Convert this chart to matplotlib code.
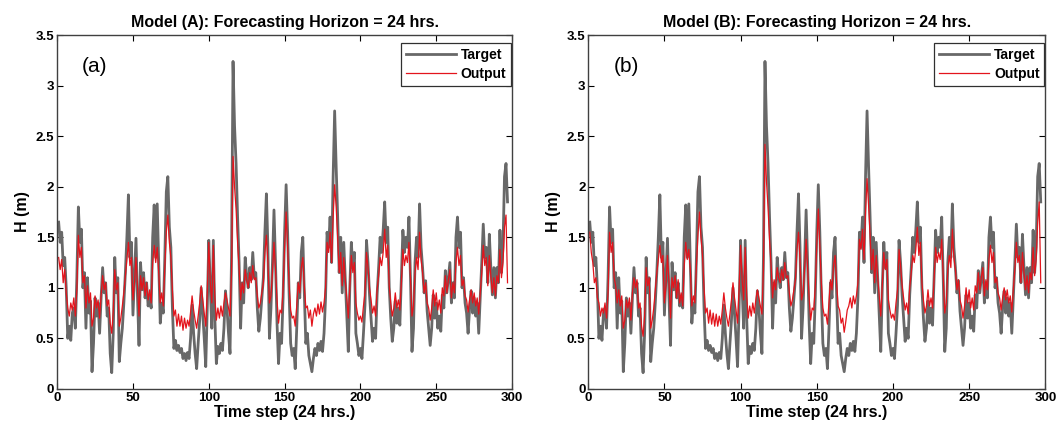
import matplotlib
matplotlib.use("Agg")
import matplotlib.pyplot as plt
import numpy as np

plt.rcParams['font.family'] = ['Liberation Sans', 'DejaVu Sans']

# measured wave height (same target in both panels), one value per 24 h step
target = [
    1.65, 1.45, 1.55, 1.22, 1.30, 1.00, 0.50, 0.62, 0.48, 0.75,
    0.80, 0.60, 1.10, 1.80, 1.45, 1.58, 1.00, 1.15, 0.60, 1.10,
    0.75, 0.87, 0.17, 0.45, 0.90, 0.72, 0.85, 0.55, 0.90, 1.20,
    0.95, 1.05, 0.72, 0.80, 0.35, 0.16, 0.55, 1.30, 0.95, 1.10,
    0.27, 0.45, 0.60, 0.85, 1.15, 1.50, 1.92, 1.30, 1.45, 0.73,
    1.10, 1.49, 0.90, 0.43, 1.25, 0.98, 1.15, 0.90, 1.05, 0.82,
    0.92, 0.80, 1.50, 1.82, 1.30, 1.83, 1.25, 0.65, 0.85, 0.75,
    1.30, 1.95, 2.10, 1.60, 1.40, 0.80, 0.40, 0.48, 0.38, 0.43,
    0.36, 0.40, 0.30, 0.35, 0.28, 0.36, 0.30, 0.50, 0.83, 0.55,
    0.35, 0.20, 0.45, 0.68, 1.00, 0.75, 0.50, 0.22, 0.80, 1.47,
    1.00, 0.60, 1.47, 0.70, 0.25, 0.42, 0.35, 0.45, 0.38, 0.60,
    0.97, 0.80, 0.55, 0.35, 1.30, 3.24, 2.60, 2.23, 1.70, 1.25,
    0.60, 1.05, 0.85, 1.30, 1.12, 1.00, 1.20, 1.08, 1.35, 1.10,
    1.15, 0.80, 0.57, 0.70, 0.90, 1.10, 1.55, 1.93, 1.40, 0.50,
    0.80, 1.25, 1.77, 1.25, 0.65, 0.25, 0.55, 0.45, 0.90, 1.55,
    2.02, 1.55, 0.93, 0.45, 0.33, 0.40, 0.20, 0.60, 1.05, 0.90,
    1.35, 1.50, 0.95, 0.45, 0.55, 0.33, 0.25, 0.17, 0.30, 0.40,
    0.33, 0.45, 0.38, 0.47, 0.37, 0.55, 0.90, 1.55, 1.40, 1.70,
    1.25, 2.10, 2.75, 2.20, 1.70, 1.15, 1.50, 0.95, 1.45, 1.10,
    0.73, 0.37, 1.00, 1.45, 1.20, 1.35, 0.55, 0.45, 0.33, 0.40,
    0.30, 0.55, 0.83, 1.47, 1.25, 0.93, 0.70, 0.47, 0.60, 0.50,
    0.93, 1.20, 1.50, 1.35, 1.57, 1.85, 1.45, 1.60, 1.00, 0.70,
    0.47, 0.60, 0.87, 0.65, 0.80, 0.63, 1.10, 1.57, 1.35, 1.50,
    1.40, 1.70, 1.10, 0.37, 0.60, 1.25, 1.50, 1.30, 1.83, 1.40,
    1.20, 0.95, 1.07, 0.77, 0.60, 0.43, 0.60, 0.93, 0.70, 0.85,
    0.60, 0.72, 0.57, 0.93, 0.80, 1.17, 0.95, 1.10, 1.25, 0.85,
    1.05, 0.90, 1.50, 1.70, 1.40, 1.55, 1.00, 1.10, 0.85, 0.75,
    0.55, 0.80, 0.97, 0.75, 0.90, 0.72, 0.85, 0.55, 0.90, 1.25,
    1.63, 1.30, 1.40, 1.05, 1.53, 1.20, 0.93, 1.20, 0.90, 1.20,
    1.05, 1.57, 1.15, 1.40, 2.10, 2.23, 1.85,
]

# model (A) forecast
output_a = [
    1.30, 1.18, 1.28, 1.05, 1.18, 0.95, 0.80, 0.72, 0.85, 0.78,
    0.90, 0.72, 0.98, 1.52, 1.30, 1.40, 1.05, 1.12, 0.80, 1.02,
    0.85, 0.95, 0.62, 0.70, 0.92, 0.80, 0.88, 0.70, 0.92, 1.12,
    0.98, 1.05, 0.82, 0.88, 0.65, 0.55, 0.76, 1.18, 0.98, 1.05,
    0.62, 0.70, 0.82, 0.95, 1.12, 1.30, 1.45, 1.22, 1.30, 0.88,
    1.05, 1.30, 1.00, 0.72, 1.12, 0.98, 1.10, 0.92, 1.05, 0.88,
    0.98, 0.85, 1.25, 1.42, 1.25, 1.40, 1.15, 0.85, 0.95, 0.82,
    1.20, 1.55, 1.72, 1.45, 1.30, 0.98, 0.72, 0.78, 0.62, 0.74,
    0.62, 0.72, 0.58, 0.70, 0.60, 0.68, 0.62, 0.76, 0.92, 0.78,
    0.68, 0.60, 0.72, 0.85, 1.02, 0.88, 0.75, 0.62, 0.95, 1.45,
    1.05, 0.85, 1.42, 0.90, 0.68, 0.80, 0.70, 0.82, 0.72, 0.85,
    0.95, 0.88, 0.80, 0.72, 1.15, 2.30, 2.00, 1.78, 1.45, 1.20,
    0.88, 1.05, 0.95, 1.18, 1.08, 1.00, 1.15, 1.05, 1.22, 1.08,
    1.10, 0.92, 0.80, 0.85, 0.95, 1.05, 1.35, 1.52, 1.25, 0.85,
    0.92, 1.15, 1.45, 1.18, 0.88, 0.65, 0.78, 0.75, 0.98, 1.40,
    1.75, 1.40, 1.02, 0.78, 0.70, 0.72, 0.62, 0.82, 1.05, 0.95,
    1.20, 1.30, 1.02, 0.80, 0.82, 0.70, 0.78, 0.62, 0.74, 0.80,
    0.72, 0.84, 0.74, 0.86, 0.76, 0.85, 1.00, 1.45, 1.35, 1.55,
    1.25, 1.70, 2.02, 1.80, 1.50, 1.15, 1.35, 1.02, 1.30, 1.08,
    0.90, 0.70, 1.00, 1.32, 1.15, 1.25, 0.85, 0.75, 0.68, 0.72,
    0.66, 0.82, 0.95, 1.35, 1.20, 1.00, 0.88, 0.75, 0.82, 0.72,
    0.98, 1.12, 1.30, 1.22, 1.35, 1.58, 1.30, 1.42, 1.02, 0.85,
    0.72, 0.80, 0.95, 0.80, 0.88, 0.78, 1.05, 1.38, 1.22, 1.32,
    1.25, 1.45, 1.10, 0.72, 0.82, 1.15, 1.30, 1.18, 1.55, 1.28,
    1.15, 0.95, 1.05, 0.85, 0.80, 0.68, 0.80, 0.98, 0.82, 0.95,
    0.78, 0.88, 0.75, 1.00, 0.92, 1.12, 0.95, 1.08, 1.18, 0.90,
    1.05, 0.95, 1.25, 1.40, 1.22, 1.32, 1.02, 1.08, 0.92, 0.88,
    0.76, 0.88, 0.98, 0.85, 0.95, 0.82, 0.90, 0.74, 0.95, 1.15,
    1.42, 1.22, 1.30, 1.02, 1.32, 1.12, 0.95, 1.10, 0.92, 1.12,
    1.05, 1.38, 1.10, 1.25, 1.60, 1.72, 1.05,
]

# model (B) forecast
output_b = [
    1.55, 1.35, 1.25, 1.05, 1.10, 0.90, 0.85, 0.72, 0.80, 0.75,
    0.85, 0.70, 0.95, 1.55, 1.35, 1.45, 1.10, 1.02, 0.85, 0.98,
    0.82, 0.92, 0.60, 0.68, 0.88, 0.80, 0.90, 0.68, 0.95, 1.10,
    1.00, 1.08, 0.80, 0.85, 0.62, 0.52, 0.72, 1.20, 1.02, 1.10,
    0.60, 0.68, 0.80, 0.98, 1.15, 1.28, 1.42, 1.25, 1.32, 0.85,
    1.02, 1.32, 1.05, 0.70, 1.10, 1.00, 1.12, 0.90, 1.08, 0.85,
    0.95, 0.82, 1.22, 1.45, 1.28, 1.38, 1.18, 0.82, 0.92, 0.85,
    1.22, 1.52, 1.75, 1.50, 1.32, 1.00, 0.75, 0.80, 0.65, 0.78,
    0.64, 0.75, 0.62, 0.74, 0.62, 0.72, 0.64, 0.78, 0.95, 0.80,
    0.70, 0.62, 0.74, 0.88, 1.05, 0.90, 0.78, 0.65, 0.98, 1.42,
    1.08, 0.88, 1.40, 0.92, 0.70, 0.82, 0.72, 0.85, 0.75, 0.88,
    0.98, 0.90, 0.82, 0.74, 1.18, 2.42, 2.05, 1.80, 1.48, 1.22,
    0.90, 1.08, 0.98, 1.20, 1.10, 1.05, 1.18, 1.08, 1.25, 1.10,
    1.12, 0.95, 0.82, 0.88, 0.98, 1.08, 1.38, 1.55, 1.28, 0.88,
    0.95, 1.18, 1.48, 1.20, 0.90, 0.68, 0.80, 0.78, 1.00, 1.42,
    1.78, 1.42, 1.05, 0.80, 0.72, 0.74, 0.64, 0.85, 1.08, 0.98,
    1.22, 1.32, 1.05, 0.82, 0.78, 0.65, 0.70, 0.56, 0.66, 0.78,
    0.82, 0.90, 0.80, 0.92, 0.84, 0.92, 1.05, 1.48, 1.38, 1.58,
    1.28, 1.75, 2.08, 1.82, 1.52, 1.18, 1.38, 1.05, 1.32, 1.10,
    0.92, 0.72, 1.02, 1.35, 1.18, 1.28, 0.88, 0.78, 0.70, 0.74,
    0.68, 0.85, 0.98, 1.38, 1.22, 1.02, 0.90, 0.78, 0.85, 0.74,
    1.00, 1.15, 1.32, 1.25, 1.38, 1.60, 1.32, 1.45, 1.05, 0.88,
    0.75, 0.82, 0.98, 0.82, 0.90, 0.80, 1.08, 1.40, 1.25, 1.35,
    1.28, 1.48, 1.12, 0.75, 0.85, 1.18, 1.32, 1.20, 1.58, 1.30,
    1.18, 0.98, 1.08, 0.88, 0.82, 0.70, 0.82, 1.00, 0.85, 0.98,
    0.80, 0.90, 0.78, 1.02, 0.95, 1.15, 0.98, 1.10, 1.20, 0.92,
    1.08, 0.98, 1.28, 1.42, 1.25, 1.35, 1.05, 1.10, 0.95, 0.90,
    0.78, 0.90, 1.00, 0.88, 0.98, 0.85, 0.92, 0.76, 0.98, 1.18,
    1.45, 1.25, 1.32, 1.05, 1.35, 1.15, 0.98, 1.12, 0.95, 1.15,
    1.08, 1.40, 1.12, 1.28, 1.65, 1.85, 1.05,
]

steps = np.arange(1, len(target) + 1)

fig = plt.figure(figsize=(10.58, 4.34), dpi=100)

panels = [
    ("Model (A): Forecasting Horizon = 24 hrs.", "(a)", output_a, [0.054, 0.104, 0.430, 0.815]),
    ("Model (B): Forecasting Horizon = 24 hrs.", "(b)", output_b, [0.556, 0.104, 0.432, 0.815]),
]

for title, tag, output, rect in panels:
    ax = fig.add_axes(rect)
    ax.plot(steps, target, color="#686868", lw=2.0, label="Target")
    ax.plot(steps, output, color="#e3141c", lw=0.9, label="Output")

    ax.set_xlim(0, 300)
    ax.set_ylim(0, 3.5)
    ax.set_xticks(np.arange(0, 301, 50))
    ax.set_yticks(np.arange(0, 3.51, 0.5))
    ax.set_yticklabels(["0", "0.5", "1", "1.5", "2", "2.5", "3", "3.5"])
    ax.tick_params(direction="in", top=True, right=True, length=4, width=0.8, labelsize=9.5, pad=2)
    for lab in ax.get_xticklabels() + ax.get_yticklabels():
        lab.set_fontweight("bold")
    for sp in ax.spines.values():
        sp.set_color("#404040")
        sp.set_linewidth(1.0)

    ax.set_title(title, fontsize=11.5, fontweight="bold", pad=6)
    ax.set_xlabel("Time step (24 hrs.)", fontsize=11.5, fontweight="bold", labelpad=1)
    ax.set_ylabel("H (m)", fontsize=11.5, fontweight="bold", labelpad=4)
    ax.text(0.055, 0.895, tag, transform=ax.transAxes, fontsize=15)

    leg = ax.legend(loc="upper right", bbox_to_anchor=(0.998, 0.978), borderaxespad=0,
                    prop={"weight": "bold", "size": 10}, handlelength=3.6,
                    fancybox=False, framealpha=1, edgecolor="#303030",
                    borderpad=0.35, labelspacing=0.4, handletextpad=0.35)
    leg.get_frame().set_linewidth(0.9)

fig.savefig("out.png", dpi=100)
